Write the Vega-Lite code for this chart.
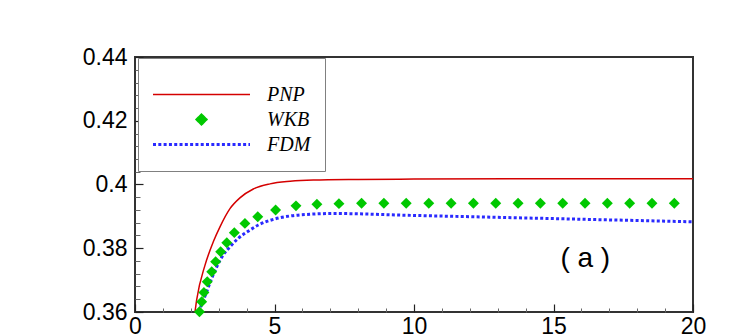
{
  "$schema": "https://vega.github.io/schema/vega-lite/v6.json",
  "width": 558,
  "height": 255,
  "autosize": {"type": "none"},
  "padding": {"left": 135, "top": 57, "right": 54, "bottom": 22},
  "background": "white",
  "datasets": {
    "curves": [
      {"series": "PNP", "x": 2.15, "y": 0.3600},
      {"series": "PNP", "x": 2.21, "y": 0.3638},
      {"series": "PNP", "x": 2.51, "y": 0.3747},
      {"series": "PNP", "x": 2.81, "y": 0.3821},
      {"series": "PNP", "x": 3.05, "y": 0.3868},
      {"series": "PNP", "x": 3.41, "y": 0.3925},
      {"series": "PNP", "x": 3.76, "y": 0.3958},
      {"series": "PNP", "x": 4.24, "y": 0.3986},
      {"series": "PNP", "x": 4.84, "y": 0.4002},
      {"series": "PNP", "x": 5.56, "y": 0.4010},
      {"series": "PNP", "x": 6.39, "y": 0.4014},
      {"series": "PNP", "x": 8.00, "y": 0.4016},
      {"series": "PNP", "x": 10.00, "y": 0.4017},
      {"series": "PNP", "x": 14.00, "y": 0.4018},
      {"series": "PNP", "x": 20.00, "y": 0.4018},
      {"series": "FDM", "x": 2.28, "y": 0.3600},
      {"series": "FDM", "x": 2.57, "y": 0.3664},
      {"series": "FDM", "x": 2.75, "y": 0.3706},
      {"series": "FDM", "x": 2.93, "y": 0.3742},
      {"series": "FDM", "x": 3.16, "y": 0.3779},
      {"series": "FDM", "x": 3.41, "y": 0.3805},
      {"series": "FDM", "x": 3.70, "y": 0.3831},
      {"series": "FDM", "x": 4.12, "y": 0.3857},
      {"series": "FDM", "x": 4.42, "y": 0.3873},
      {"series": "FDM", "x": 5.02, "y": 0.3892},
      {"series": "FDM", "x": 5.62, "y": 0.3902},
      {"series": "FDM", "x": 6.33, "y": 0.3907},
      {"series": "FDM", "x": 7.17, "y": 0.3909},
      {"series": "FDM", "x": 8.00, "y": 0.3908},
      {"series": "FDM", "x": 9.50, "y": 0.3904},
      {"series": "FDM", "x": 11.50, "y": 0.3900},
      {"series": "FDM", "x": 13.50, "y": 0.3896},
      {"series": "FDM", "x": 15.50, "y": 0.3892},
      {"series": "FDM", "x": 17.50, "y": 0.3888},
      {"series": "FDM", "x": 20.00, "y": 0.3883},
      {"series": "WKB", "x": 2.31, "y": 0.3601},
      {"series": "WKB", "x": 2.39, "y": 0.3632},
      {"series": "WKB", "x": 2.47, "y": 0.3661},
      {"series": "WKB", "x": 2.59, "y": 0.3695},
      {"series": "WKB", "x": 2.75, "y": 0.3726},
      {"series": "WKB", "x": 2.89, "y": 0.3758},
      {"series": "WKB", "x": 3.07, "y": 0.3789},
      {"series": "WKB", "x": 3.29, "y": 0.3817},
      {"series": "WKB", "x": 3.56, "y": 0.3849},
      {"series": "WKB", "x": 3.94, "y": 0.3878},
      {"series": "WKB", "x": 4.40, "y": 0.3899},
      {"series": "WKB", "x": 5.04, "y": 0.3920},
      {"series": "WKB", "x": 5.77, "y": 0.3933},
      {"series": "WKB", "x": 6.52, "y": 0.3938},
      {"series": "WKB", "x": 7.31, "y": 0.3940},
      {"series": "WKB", "x": 8.12, "y": 0.3941},
      {"series": "WKB", "x": 8.92, "y": 0.3941},
      {"series": "WKB", "x": 9.72, "y": 0.3941},
      {"series": "WKB", "x": 10.53, "y": 0.3941},
      {"series": "WKB", "x": 11.33, "y": 0.3941},
      {"series": "WKB", "x": 12.13, "y": 0.3941},
      {"series": "WKB", "x": 12.93, "y": 0.3941},
      {"series": "WKB", "x": 13.73, "y": 0.3941},
      {"series": "WKB", "x": 14.53, "y": 0.3941},
      {"series": "WKB", "x": 15.33, "y": 0.3941},
      {"series": "WKB", "x": 16.13, "y": 0.3941},
      {"series": "WKB", "x": 16.93, "y": 0.3941},
      {"series": "WKB", "x": 17.73, "y": 0.3941},
      {"series": "WKB", "x": 18.53, "y": 0.3941},
      {"series": "WKB", "x": 19.33, "y": 0.3941}
    ],
    "note": [
      {"x": 16.14, "y": 0.374, "label": "( a )"}
    ]
  },
  "config": {
    "view": {"stroke": "#333333", "strokeWidth": 2},
    "axis": {
      "grid": false,
      "domain": false,
      "title": null,
      "labelFont": "Liberation Sans",
      "labelFontSize": 23,
      "labelColor": "black",
      "tickColor": "#222222",
      "tickWidth": 1.2,
      "labelFlush": false,
      "labelOverlap": false,
      "labelBound": false
    },
    "legend": {
      "orient": "none",
      "legendX": 3,
      "legendY": 1,
      "titleFontSize": 6,
      "titlePadding": 4,
      "padding": 14,
      "fillColor": "white",
      "strokeColor": "#808080",
      "symbolType": "stroke",
      "symbolSize": 9400,
      "clipHeight": 25,
      "rowPadding": 0,
      "labelFont": "Liberation Serif",
      "labelFontStyle": "italic",
      "labelFontSize": 20,
      "labelColor": "black",
      "labelLimit": 200
    }
  },
  "layer": [
    {
      "data": {"name": "curves"},
      "encoding": {
        "x": {
          "field": "x", "type": "quantitative",
          "scale": {"domain": [0, 20], "nice": false, "zero": false},
          "axis": {"orient": "bottom", "values": [0, 5, 10, 15, 20], "tickSize": -8, "labelPadding": 11}
        },
        "y": {
          "field": "y", "type": "quantitative",
          "scale": {"domain": [0.36, 0.44], "nice": false, "zero": false},
          "axis": {"orient": "left", "values": [0.36, 0.38, 0.40, 0.42, 0.44], "format": "~g", "tickSize": -8, "labelPadding": 16}
        }
      },
      "layer": [
        {
          "transform": [{"filter": "datum.series === 'PNP'"}],
          "mark": {"type": "line", "strokeWidth": 1.5, "interpolate": "monotone", "clip": true},
          "encoding": {
            "color": {
              "field": "series", "type": "nominal",
              "scale": {"domain": ["PNP", "WKB", "FDM"], "range": ["#d40000", "#00c800", "#2a2aff"]},
              "legend": {
                "title": " ",
                "encode": {
                  "symbols": {
                    "update": {
                      "x": {"value": 49.5},
                      "shape": {"signal": "datum.value === 'WKB' ? 'diamond' : 'stroke'"},
                      "size": {"signal": "datum.value === 'WKB' ? 120 : 9400"},
                      "fill": {"signal": "datum.value === 'WKB' ? '#00c800' : 'transparent'"},
                      "stroke": {"signal": "datum.value === 'WKB' ? 'transparent' : (datum.value === 'PNP' ? '#d40000' : '#2a2aff')"},
                      "strokeWidth": {"signal": "datum.value === 'FDM' ? 3 : 1.5"},
                      "strokeDash": {"signal": "datum.value === 'FDM' ? [3, 2.3] : [1, 0]"},
                      "opacity": {"value": 1}
                    }
                  },
                  "labels": {
                    "update": {
                      "x": {"value": 115}
                    }
                  }
                }
              }
            }
          }
        },
        {
          "transform": [{"filter": "datum.series === 'FDM'"}],
          "mark": {"type": "line", "strokeWidth": 3, "strokeDash": [3, 2.3], "interpolate": "monotone", "clip": true},
          "encoding": {
            "color": {"field": "series", "type": "nominal"}
          }
        },
        {
          "transform": [{"filter": "datum.series === 'WKB'"}],
          "mark": {"type": "point", "shape": "diamond", "filled": true, "size": 120, "opacity": 1},
          "encoding": {
            "color": {"field": "series", "type": "nominal"}
          }
        },
        {
          "data": {"name": "note"},
          "mark": {"type": "text", "font": "Liberation Sans", "fontSize": 28, "align": "center", "baseline": "alphabetic", "color": "black"},
          "encoding": {
            "text": {"field": "label"}
          }
        }
      ]
    },
    {
      "data": {"name": "curves"},
      "mark": {"type": "point", "opacity": 0},
      "encoding": {
        "x": {
          "field": "x", "type": "quantitative",
          "scale": {"domain": [0, 20], "nice": false, "zero": false},
          "axis": {"orient": "bottom", "values": [1, 2, 3, 4, 6, 7, 8, 9, 11, 12, 13, 14, 16, 17, 18, 19], "tickSize": -4, "labels": false, "tickColor": "#666666", "tickWidth": 1}
        },
        "y": {
          "field": "y", "type": "quantitative",
          "scale": {"domain": [0.36, 0.44], "nice": false, "zero": false},
          "axis": {"orient": "left", "values": [0.364, 0.368, 0.372, 0.376, 0.384, 0.388, 0.392, 0.396, 0.404, 0.408, 0.412, 0.416, 0.424, 0.428, 0.432, 0.436], "tickSize": -5, "labels": false, "tickColor": "#666666", "tickWidth": 1}
        }
      }
    }
  ],
  "resolve": {"axis": {"x": "independent", "y": "independent"}}
}
